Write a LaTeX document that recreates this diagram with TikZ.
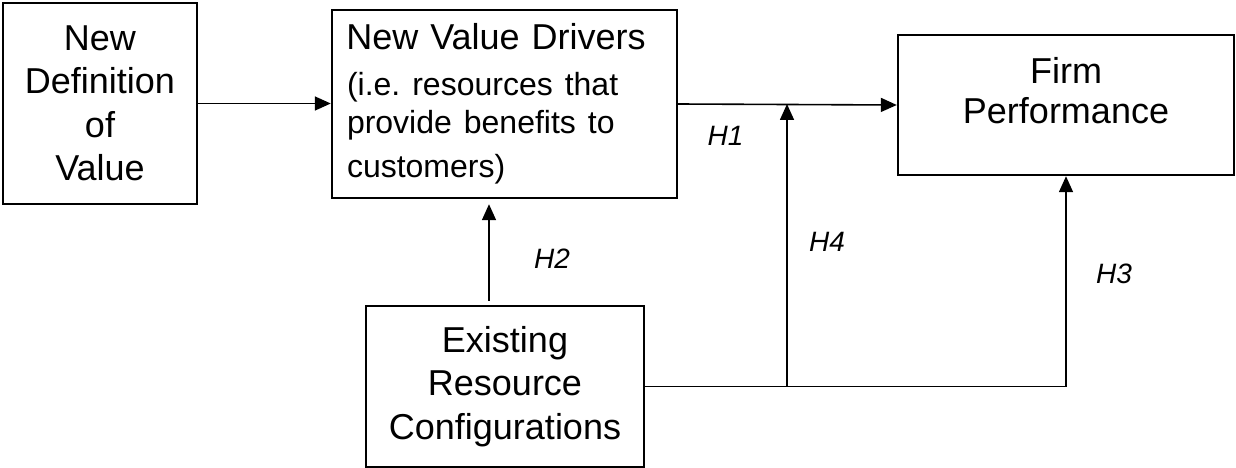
\documentclass[tikz,border=0pt]{standalone}
\usepackage{fontspec}
\setmainfont{Liberation Sans}
\usepackage{tikz}
\usetikzlibrary{arrows.meta,positioning}
\frenchspacing

\begin{document}
\begin{tikzpicture}[x=1pt,y=-1pt,
	box/.style={draw,line width=2.4pt,inner sep=0pt,align=center,font=\fontsize{36}{43.5}\selectfont},
	txt/.style={inner sep=0pt,align=center,font=\fontsize{36}{40}\selectfont},
	hyp/.style={font=\fontsize{28}{34}\selectfont\itshape},
	conn/.style={line width=1.6pt,->},
	>={Triangle[length=16pt,width=14pt]}]
	\useasboundingbox (0,0) rectangle (1236,468);
	\node[box,minimum width=194pt,minimum height=201pt] (def) at (100,103.5) {New\\Definition\\of\\Value};
	\node[box,minimum width=345pt,minimum height=188pt,text width=315pt,align=left] (drv) at (504.5,104)
		{\makebox[\linewidth]{New Value Drivers\hspace{17pt}}\\[8pt]
		{\fontsize{32}{38}\selectfont (i.e. resources that\\provide benefits to\\customers)}};
	\node[box,minimum width=336pt,minimum height=140pt] (perf) at (1066,105) {};
	\node[txt,below=23pt of perf.north] (perflbl) {Firm\\Performance};
	\node[box,minimum width=278pt,minimum height=161pt] (exist) at (505,386.5) {Existing\\Resource\\Configurations};
	\coordinate (h2b) at (489,306.5);
	\coordinate (j4) at (787,386.5);
	%
	\draw[conn] (def.east) -- (def.east -| drv.west);
	\draw[conn] (drv.east) -- node[hyp,shift={(-62,31)}] {H1} (perf.west);
	\draw[conn,shorten <=6pt,shorten >=5pt] (h2b) -- node[hyp,shift={(63,6)}] {H2} (h2b |- drv.south);
	\draw[conn] (exist.east) -| node[hyp,pos=0.75,shift={(48,-7)}] {H3} (perf.south);
	\draw[conn] (j4) -- node[hyp,shift={(40,-3)}] {H4} (j4 |- drv.east);
\end{tikzpicture}
\end{document}
